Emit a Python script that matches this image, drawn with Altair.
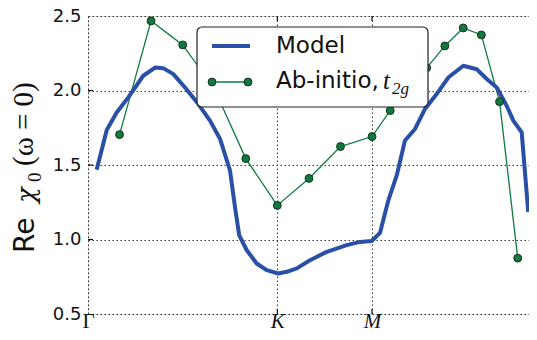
import altair as alt
import pandas as pd

# ---- data ----
model_x = [0.061, 0.132, 0.202, 0.284, 0.389, 0.472, 0.530, 0.601, 0.683, 0.777,
           0.859, 0.930, 1.000, 1.035, 1.065, 1.118, 1.188, 1.258, 1.340, 1.399,
           1.470, 1.563, 1.681, 1.822, 1.915, 1.998, 2.056, 2.115, 2.174, 2.232,
           2.303, 2.373, 2.455, 2.537, 2.643, 2.737, 2.808, 2.878, 2.948, 2.995,
           3.054, 3.100]
model_y = [1.468, 1.735, 1.853, 1.954, 2.099, 2.154, 2.150, 2.110, 2.020, 1.909,
           1.798, 1.675, 1.463, 1.218, 1.028, 0.928, 0.839, 0.794, 0.772, 0.783,
           0.806, 0.861, 0.917, 0.962, 0.984, 0.990, 1.044, 1.263, 1.430, 1.664,
           1.742, 1.876, 1.976, 2.087, 2.166, 2.143, 2.077, 2.020, 1.898, 1.798,
           1.719, 1.184]

abinit_x = [0.222, 0.444, 0.667, 0.889, 1.111, 1.333, 1.556, 1.778, 2.000,
            2.128, 2.257, 2.385, 2.513, 2.642, 2.770, 2.898, 3.026]
abinit_y = [1.704, 2.467, 2.306, 2.012, 1.543, 1.229, 1.410, 1.624, 1.691,
            1.865, 2.012, 2.152, 2.299, 2.420, 2.373, 1.925, 0.875]

tick_pos = [0.0, 1.3333, 2.0, 3.1547]
tick_lab = ["Γ", "K", "M", "Γ"]
y_ticks = [0.5, 1.0, 1.5, 2.0, 2.5]
y_inner = [1.0, 1.5, 2.0]
x_inner = [1.3333, 2.0]

legend_labels = ["Model", "Ab-initio,"]

W, H = 448, 298
BLUE = "#2a4fa6"
GREEN = "#0f7a3e"
INK = "#111"

model_df = pd.DataFrame({"x": model_x, "y": model_y})
ab_df = pd.DataFrame({"x": abinit_x, "y": abinit_y})

# label expression built from the tick lists
expr = "'" + tick_lab[-1] + "'"
for i in range(len(tick_pos) - 2, -1, -1):
    mid = (tick_pos[i] + tick_pos[i + 1]) / 2
    expr = f"datum.value < {mid} ? '{tick_lab[i]}' : ({expr})"

xscale = alt.Scale(domain=[tick_pos[0], tick_pos[-1]], nice=False, zero=False)
yscale = alt.Scale(domain=[0.5, 2.5], nice=False, zero=False)

xaxis = alt.Axis(values=tick_pos, labelExpr=expr, title=None, ticks=False, tickSize=0,
                 labelFont="Liberation Serif", labelFontSize=21, labelColor=INK,
                 labelFontStyle=alt.condition("datum.value > 0.1 && datum.value < 3",
                                              alt.value("italic"), alt.value("normal")),
                 labelBaseline="alphabetic", labelPadding=13, domain=False, grid=True,
                 gridColor=INK, gridDash=[1.5, 2.5], gridWidth=1, gridOpacity=0.85,
                 labelFlush=False, labelOverlap=False)
yaxis = alt.Axis(values=y_ticks, format=".1f", title=None, ticks=False, tickSize=0,
                 labelFont="DejaVu Sans", labelFontSize=18, labelColor=INK,
                 labelPadding=7, domain=False, grid=True, gridColor=INK,
                 gridDash=[1.5, 2.5], gridWidth=1, gridOpacity=0.85, labelFlush=False)

ab_line = alt.Chart(ab_df).mark_line(color=GREEN, strokeWidth=1.3).encode(
    x=alt.X("x:Q", scale=xscale, axis=xaxis), y=alt.Y("y:Q", scale=yscale, axis=yaxis))
model_line = alt.Chart(model_df).mark_line(color=BLUE, strokeWidth=4, strokeJoin="round").encode(
    x=alt.X("x:Q", scale=xscale), y=alt.Y("y:Q", scale=yscale))
ab_pts = alt.Chart(ab_df).mark_point(filled=True, fill=GREEN, stroke="#1c2e1c", strokeWidth=1,
                                     size=62, opacity=1).encode(
    x=alt.X("x:Q", scale=xscale), y=alt.Y("y:Q", scale=yscale))

# inward tick marks
xt_df = pd.DataFrame({"x": x_inner})
yt_df = pd.DataFrame({"y": y_inner})
xt_bot = alt.Chart(xt_df).mark_rule(color=INK, strokeWidth=1.2).encode(
    x=alt.X("x:Q", scale=xscale), y=alt.value(H), y2=alt.value(H - 5))
xt_top = alt.Chart(xt_df).mark_rule(color=INK, strokeWidth=1.2).encode(
    x=alt.X("x:Q", scale=xscale), y=alt.value(0), y2=alt.value(5))
yt_left = alt.Chart(yt_df).mark_rule(color=INK, strokeWidth=1.2).encode(
    y=alt.Y("y:Q", scale=yscale), x=alt.value(0), x2=alt.value(5))
yt_right = alt.Chart(yt_df).mark_rule(color=INK, strokeWidth=1.2).encode(
    y=alt.Y("y:Q", scale=yscale), x=alt.value(W), x2=alt.value(W - 5))

# y-axis title pieces (rotated)
def vtext(txt, x, y, font, size, style="normal"):
    return alt.Chart(pd.DataFrame({"t": [txt]})).mark_text(
        font=font, fontSize=size, fontStyle=style, angle=270, align="left",
        baseline="alphabetic", color=INK).encode(x=alt.value(x), y=alt.value(y), text="t:N")

t_re = vtext("Re", -54, 237, "DejaVu Sans", 28)
t_chi = vtext("χ", -53, 187, "DejaVu Serif", 26, "italic")
t_sub = vtext("0", -47, 166, "Liberation Serif", 19)
t_par = vtext("(ω = 0)", -55, 150, "Liberation Serif", 29)

# legend box
one = pd.DataFrame({"a": [0]})
leg_box = alt.Chart(one).mark_rect(
    fill="white", stroke="#222", strokeWidth=1.2, cornerRadius=5).encode(
    x=alt.value(109), x2=alt.value(340), y=alt.value(11), y2=alt.value(91))
leg_blue = alt.Chart(one).mark_rule(color=BLUE, strokeWidth=4).encode(
    x=alt.value(124), x2=alt.value(162), y=alt.value(30))
leg_green = alt.Chart(one).mark_rule(color=GREEN, strokeWidth=1.3).encode(
    x=alt.value(124), x2=alt.value(160), y=alt.value(66))
leg_dots = alt.Chart(pd.DataFrame({"px": [124, 160]})).mark_point(
    filled=True, fill=GREEN, stroke="#1c2e1c", strokeWidth=1, size=62, opacity=1).encode(
    x=alt.X("px:Q", scale=None), y=alt.value(66))
leg_text = alt.Chart(pd.DataFrame({"t": legend_labels, "py": [30, 65]})).mark_text(
    font="DejaVu Sans", fontSize=23, align="left", baseline="middle", color=INK).encode(
    x=alt.value(188), y=alt.Y("py:Q", scale=None), text="t:N")
leg_t = alt.Chart(pd.DataFrame({"t": ["t"]})).mark_text(
    font="Liberation Serif", fontStyle="italic", fontSize=25, align="left",
    baseline="alphabetic", color=INK).encode(x=alt.value(295), y=alt.value(73), text="t:N")
leg_sub = alt.Chart(pd.DataFrame({"t": ["2g"]})).mark_text(
    font="Liberation Serif", fontStyle="italic", fontSize=17, align="left",
    baseline="alphabetic", color=INK).encode(x=alt.value(304), y=alt.value(78), text="t:N")

chart = alt.layer(ab_line, model_line, ab_pts, xt_bot, xt_top, yt_left, yt_right,
                  t_re, t_chi, t_sub, t_par,
                  leg_box, leg_blue, leg_green, leg_dots, leg_text, leg_t, leg_sub).properties(
    width=W, height=H,
    autosize=alt.AutoSizeParams(type="none"),
    padding={"left": 80, "top": 8, "right": -7, "bottom": 18},
).configure_view(stroke=INK, strokeWidth=1.3).configure(background="white")

chart.save("out.html", embed_options={"renderer": "svg", "actions": False})
